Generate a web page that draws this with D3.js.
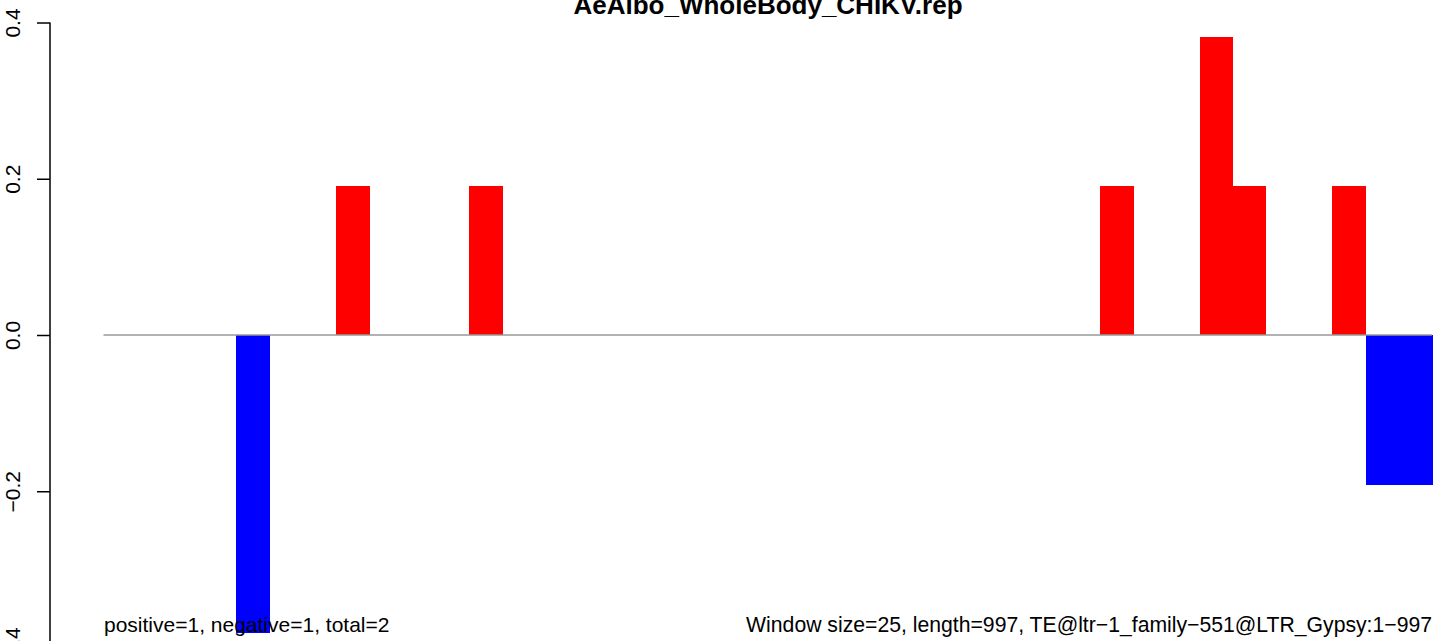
<!DOCTYPE html>
<html><head><meta charset="utf-8">
<script src="https://cdn.jsdelivr.net/npm/d3@7"></script>
<style>body{margin:0;background:#fff}svg{display:block}text{font-family:"Liberation Sans",Arial,sans-serif}</style>
</head><body>
<svg id="c" width="1433" height="641"></svg>
<script>
const title = "AeAlbo_WholeBody_CHIKV.rep";
const windows = d3.range(40);
const values = [0,0,0,0,-0.382,0,0,0.191,0,0,0,0.191,0,0,0,0,0,0,0,0,
                0,0,0,0,0,0,0,0,0,0,0.191,0,0,0.381,0.191,0,0,0.191,-0.192,-0.192];
const yTicks = [-0.4,-0.2,0,0.2,0.4];
const leftNote = "positive=1, negative=1, total=2";
const rightNote = "Window size=25, length=997, TE@ltr\u22121_family\u2212551@LTR_Gypsy:1\u2212997";

const svg = d3.select("#c");
const x = d3.scaleBand().domain(windows).range([103.5, 1432]).padding(0);
const y = d3.scaleLinear().domain([-0.4, 0.4]).range([647.5, 22.5]);

svg.append("g").attr("shape-rendering","crispEdges").selectAll("rect").data(values).join("rect")
  .attr("x", (d,i)=>x(i)).attr("width", x.bandwidth()+0.5)
  .attr("y", d=>y(Math.max(0,d))).attr("height", d=>Math.abs(y(d)-y(0)))
  .attr("fill", d=>d>=0?"#ff0000":"#0000ff");

svg.append("line").attr("x1",103.5).attr("x2",1432).attr("y1",y(0)).attr("y2",y(0))
  .attr("stroke","#999").attr("stroke-width",1.5);

const ax = svg.append("g").attr("transform","translate(50,0)")
  .call(d3.axisLeft(y).tickValues(yTicks).tickSize(13).tickPadding(0)
    .tickFormat(d=>d===0?"0.0":d3.format(".1f")(d).replace("-","\u2212")));
ax.select(".domain").attr("d", `M0,${y(0.4)}V${y(-0.4)}`).attr("stroke","#000").attr("stroke-width",1.5);
ax.selectAll(".tick line").attr("stroke","#000").attr("stroke-width",1.5);
ax.selectAll(".tick text").attr("font-size",21).attr("fill","#000")
  .attr("text-anchor","middle").attr("x",0).attr("y",0)
  .attr("transform","translate(-45,0) rotate(-90)").attr("dy","0.71em");

svg.append("text").attr("x",768).attr("y",14).attr("text-anchor","middle")
  .attr("font-weight","bold").attr("font-size",26).text(title);
svg.append("text").attr("x",104).attr("y",632).attr("font-size",21).text(leftNote);
svg.append("text").attr("x",1432).attr("y",632).attr("text-anchor","end").attr("font-size",21.2).text(rightNote);
</script>
</body></html>
